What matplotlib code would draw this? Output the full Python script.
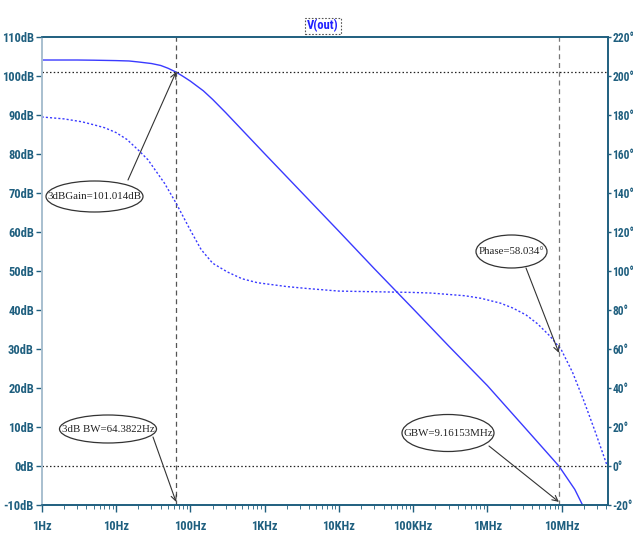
import numpy as np
import matplotlib
matplotlib.use('Agg')
from matplotlib import pyplot as plt
from matplotlib.patches import Ellipse

# gain curve (Hz, dB)
freq_gain = [1, 3, 5, 10, 15, 20, 30, 40, 50, 64.38, 80, 100, 150, 200, 300, 1e3, 3e3, 1e4, 3e4, 1e5, 3e5, 1e6, 3e6, 9.16e6, 1.5e7, 2e7, 2.5e7]
gain_db = [104.1, 104.1, 104.05, 103.95, 103.85, 103.6, 103.2, 102.7, 102.0, 101.0, 99.9, 98.7, 96.2, 94.0, 90.6, 80.1, 70.6, 60.2, 50.6, 40.3, 30.8, 20.6, 10.4, 0.0, -6.0, -10.8, -15.0]

# phase curve (Hz, deg)
freq_phase = [1, 2, 3.5, 5, 7, 10, 14, 20, 27, 32, 45, 64, 100, 140, 200, 316, 500, 800, 2000, 3800, 1e4,
              1e5, 1.73e5, 5e5, 8.2e5, 1.5e6, 2.2e6, 3.3e6, 4.7e6, 7e6, 9.9e6, 1.4e7, 1.96e7, 2.8e7, 4.1e7]
phase_deg = [179, 178, 176.5, 175, 173.5, 171, 167.5, 162, 157, 153, 145, 135, 121, 111, 104, 99.5, 96, 94, 92, 91, 89.7,
             89, 88.7, 87.3, 86, 83.5, 81, 77.5, 73, 66.5, 59.5, 48, 34, 18, 0]

xticks = [1, 10, 100, 1e3, 1e4, 1e5, 1e6, 1e7]
xlabels = ['1Hz', '10Hz', '100Hz', '1KHz', '10KHz', '100KHz', '1MHz', '10MHz']
yticks = list(range(-10, 111, 10))
ylabels = [f'{v}dB' for v in yticks]
y2ticks = list(range(-20, 221, 20))
y2labels = [f'{v}°' for v in y2ticks]

bw_freq = 64.3822
gain_3db = 101.014
gbw_freq = 9.16153e6
pm = 58.034

axis_col = '#1f5f7f'
curve_col = '#3a3aff'
tick_font = ['Roboto Condensed', 'Liberation Sans', 'DejaVu Sans']
note_font = ['Liberation Serif', 'DejaVu Serif']

W, H = 633, 536
fig = plt.figure(figsize=(W / 100, H / 100), dpi=100)
ax = fig.add_axes([41.7 / W, 1 - 505 / H, (607.7 - 41.7) / W, (505 - 37) / H])
ax2 = ax.twinx()

ax.set_xscale('log')
ax.set_xlim(1, 4.16e7)
ax.set_ylim(-10, 110)
ax2.set_ylim(-20, 220)

ax.plot(freq_gain, gain_db, color=curve_col, lw=1.0)
ax2.plot(freq_phase, phase_deg, color=curve_col, lw=1.0, ls=(0, (1.5, 1.5)))

# cursors
ax.axvline(bw_freq, color='#555555', lw=0.9, ls=(0, (4, 3)))
ax.axvline(gbw_freq, color='#777777', lw=0.9, ls=(0, (4, 3)))
ax.axhline(gain_3db, color='#222222', lw=0.9, ls=(0, (1.2, 1.8)))
ax.axhline(0, color='#222222', lw=0.9, ls=(0, (1.2, 1.8)))

ax.set_xticks(xticks)
ax.set_xticklabels(xlabels)
ax.set_yticks(yticks)
ax.set_yticklabels(ylabels)
ax2.set_yticks(y2ticks)
ax2.set_yticklabels(y2labels)

for a in (ax, ax2):
    a.tick_params(colors=axis_col, labelsize=9, length=4, width=1, pad=1.5)
    for s in a.spines.values():
        s.set_color(axis_col)
        s.set_linewidth(1.2)
ax2.tick_params(axis='y', length=2.5, pad=0.8, labelsize=8.3)
for a in (ax, ax2):
    for lab in a.get_xticklabels() + a.get_yticklabels():
        lab.set_family(tick_font)
        lab.set_weight('bold')
ax.tick_params(axis='x', which='minor', colors=axis_col, length=3)
ax.tick_params(axis='x', which='major', length=5, pad=6)
ax.spines['left'].set_color('#a8bfcf')
ax2.spines['left'].set_color('#a8bfcf')

# annotation ellipses (figure pixels, y from top)
notes = [
    ('3dBGain=101.014dB', 94.5, 196.5, 97, 31, (128, 180), (bw_freq, gain_3db), ax),
    ('3dB BW=64.3822Hz', 108, 429, 97, 28, (153, 437), (bw_freq, -9.2), ax),
    ('Phase=58.034°', 511.5, 251.5, 71, 33, (526, 268), (gbw_freq, pm), ax2),
    ('GBW=9.16153MHz', 448, 433, 92, 37, (489, 446), (gbw_freq, -9.2), ax),
]
for txt, cx, cy, w, h, start, target, a in notes:
    e = Ellipse((cx / W, 1 - cy / H), w / W, h / H, transform=fig.transFigure,
                facecolor='white', edgecolor='#333333', lw=0.9, zorder=5)
    fig.patches.append(e)
    fig.text(cx / W, 1 - cy / H, txt, ha='center', va='center', fontsize=7.8,
             family=note_font, color='#222222', zorder=6)
    a.annotate('', xy=target, xycoords='data',
               xytext=(start[0], H - start[1]), textcoords='figure pixels',
               arrowprops=dict(arrowstyle='->', color='#333333', lw=0.8,
                               shrinkA=0, shrinkB=0))

fig.text(323 / W, 1 - 26 / H, 'V(out)', ha='center', va='center', fontsize=9,
         color='#2020ff', family=tick_font, weight='bold',
         bbox=dict(boxstyle='square,pad=0.15', facecolor='white', edgecolor='#555555',
                   ls=(0, (1.5, 1.5)), lw=0.8))

fig.savefig('out.png', dpi=100)
